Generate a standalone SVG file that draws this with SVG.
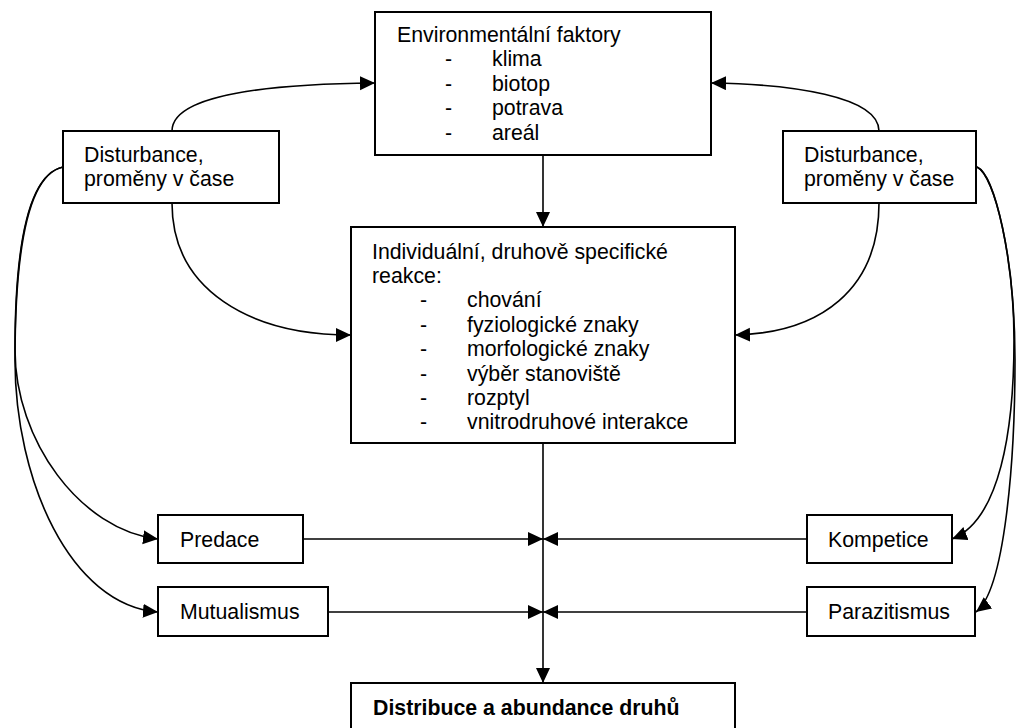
<svg xmlns="http://www.w3.org/2000/svg" width="1016" height="728" viewBox="0 0 1016 728">
<style>
.box{fill:#fff;stroke:#000;stroke-width:2}
.t{font-family:"Liberation Sans",Arial,sans-serif;font-size:21.3px;fill:#000}
.b{font-weight:bold}
.c{fill:none;stroke:#000;stroke-width:1.6;marker-end:url(#ah)}
</style>
<defs>
<marker id="ah" markerUnits="userSpaceOnUse" markerWidth="16" markerHeight="15" refX="15" refY="7" orient="auto">
<path d="M0,0 L15,7 L0,14 z" fill="#000"/>
</marker>
</defs>
<rect width="1016" height="728" fill="#fff"/>
<g id="connectors">
<path class="c" d="M172,131 C172,96 262,84 375,83"/>
<path class="c" d="M879,131 C879,96 790,84 711,83"/>
<path class="c" d="M543,155 L543,227"/>
<path class="c" d="M172,203 C172,290 250,335 351,335"/>
<path class="c" d="M879,203 C879,290 820,333 735,335"/>
<path class="c" d="M63,167 C25,175 15,260 15,350 C15,440 80,530 158,539"/>
<path class="c" d="M63,167 C25,175 15,260 15,360 C15,480 70,605 158,612"/>
<path class="c" d="M977,167 C995,175 1014,260 1014,340 C1014,430 1000,520 952,539"/>
<path class="c" d="M977,167 C995,175 1015,260 1015,360 C1015,460 1005,590 976,612"/>
<path class="c" d="M303,539 L543,539"/>
<path class="c" d="M807,539 L543,539"/>
<path class="c" d="M328,612 L543,612"/>
<path class="c" d="M807,612 L543,612"/>
<path class="c" d="M543,443 L543,683"/>
</g>
<g id="env">
<rect class="box" x="375" y="12" width="336" height="143"/>
<text class="t" x="397" y="42">Environmentální faktory</text>
<text class="t" x="445" y="66.4">-</text><text class="t" x="492" y="66.4">klima</text>
<text class="t" x="445" y="90.8">-</text><text class="t" x="492" y="90.8">biotop</text>
<text class="t" x="445" y="115.2">-</text><text class="t" x="492" y="115.2">potrava</text>
<text class="t" x="445" y="139.6">-</text><text class="t" x="492" y="139.6">areál</text>
</g>
<g id="dist-left">
<rect class="box" x="63" y="131" width="216" height="72"/>
<text class="t" x="84" y="162">Disturbance,</text>
<text class="t" x="84" y="186">proměny v čase</text>
</g>
<g id="dist-right">
<rect class="box" x="783" y="131" width="193" height="72"/>
<text class="t" x="804" y="162">Disturbance,</text>
<text class="t" x="804" y="186">proměny v čase</text>
</g>
<g id="reakce">
<rect class="box" x="351" y="227" width="384" height="216"/>
<text class="t" x="372" y="258.5">Individuální, druhově specifické</text>
<text class="t" x="372" y="282.9">reakce:</text>
<text class="t" x="420" y="307.3">-</text><text class="t" x="467" y="307.3">chování</text>
<text class="t" x="420" y="331.7">-</text><text class="t" x="467" y="331.7">fyziologické znaky</text>
<text class="t" x="420" y="356.1">-</text><text class="t" x="467" y="356.1">morfologické znaky</text>
<text class="t" x="420" y="380.5">-</text><text class="t" x="467" y="380.5">výběr stanoviště</text>
<text class="t" x="420" y="404.9">-</text><text class="t" x="467" y="404.9">rozptyl</text>
<text class="t" x="420" y="429.3">-</text><text class="t" x="467" y="429.3">vnitrodruhové interakce</text>
</g>
<g id="predace">
<rect class="box" x="158" y="515" width="145" height="48"/>
<text class="t" x="180" y="546.5">Predace</text>
</g>
<g id="mutualismus">
<rect class="box" x="158" y="587" width="170" height="49"/>
<text class="t" x="180" y="619">Mutualismus</text>
</g>
<g id="kompetice">
<rect class="box" x="807" y="515" width="145" height="48"/>
<text class="t" x="828" y="546.5">Kompetice</text>
</g>
<g id="parazitismus">
<rect class="box" x="807" y="587" width="168" height="49"/>
<text class="t" x="828" y="619">Parazitismus</text>
</g>
<g id="distribuce">
<rect class="box" x="351" y="683" width="384" height="60"/>
<text class="t b" x="373" y="715">Distribuce a abundance druhů</text>
</g>
</svg>
